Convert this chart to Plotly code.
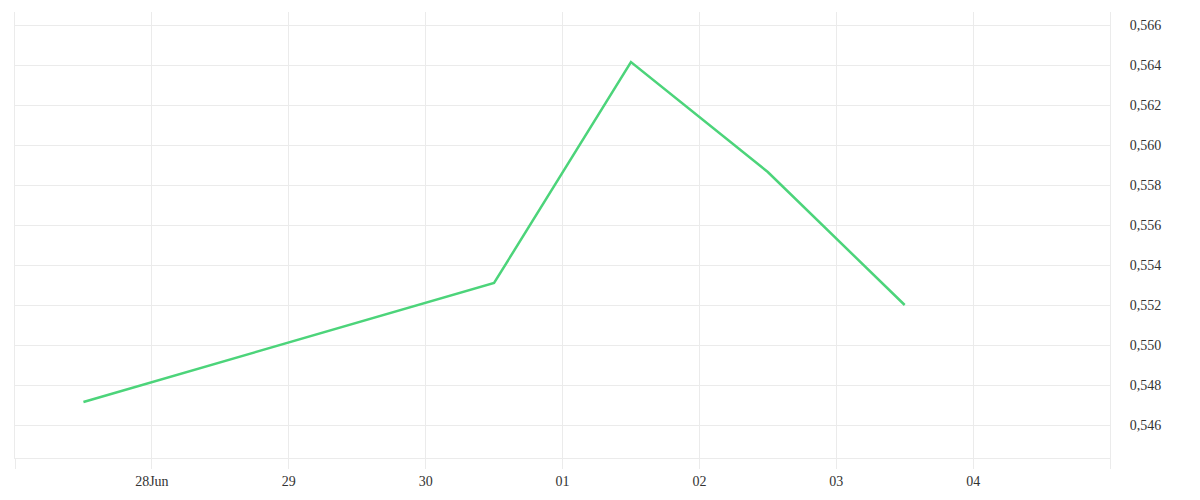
import plotly.graph_objects as go

dates = ["2020-06-27 12:00", "2020-06-30 12:00", "2020-07-01 12:00", "2020-07-02 12:00", "2020-07-03 12:00"]
values = [0.54715, 0.5531, 0.56415, 0.55865, 0.5520]

x_tickvals = ["2020-06-27", "2020-06-28", "2020-06-29", "2020-06-30", "2020-07-01",
              "2020-07-02", "2020-07-03", "2020-07-04", "2020-07-05"]
x_ticktext = ["", "28Jun", "29", "30", "01", "02", "03", "04", ""]
y_tickvals = [0.546, 0.548, 0.550, 0.552, 0.554, 0.556, 0.558, 0.560, 0.562, 0.564, 0.566]

grid = "#ebebeb"
font = dict(family="Liberation Serif", size=14, color="#333333")

fig = go.Figure()
fig.add_trace(go.Scatter(
    x=dates, y=values, mode="lines",
    line=dict(color="#4cd47a", width=2.5),
    hoverinfo="x+y",
))

fig.update_layout(
    width=1192, height=492,
    margin=dict(l=7, r=90, t=4, b=42),
    paper_bgcolor="white", plot_bgcolor="white",
    showlegend=False,
    separators=",.",
    font=font,
    xaxis=dict(
        type="date",
        range=["2020-06-27", "2020-07-05"],
        tickmode="array", tickvals=x_tickvals, ticktext=x_ticktext,
        showgrid=True, gridcolor=grid, gridwidth=1,
        showline=True, linecolor=grid, linewidth=1,
        ticks="outside", ticklen=10, tickcolor=grid, tickwidth=1,
        zeroline=False, tickfont=font,
    ),
    yaxis=dict(
        side="right",
        range=[0.54435, 0.56665],
        tickmode="array", tickvals=y_tickvals,
        tickformat=".3f",
        showgrid=True, gridcolor=grid, gridwidth=1,
        showline=True, linecolor=grid, linewidth=1, mirror=True,
        ticks="", zeroline=False, tickfont=font,
        ticklabelstandoff=16,
    ),
)

fig.write_html("out.html")
